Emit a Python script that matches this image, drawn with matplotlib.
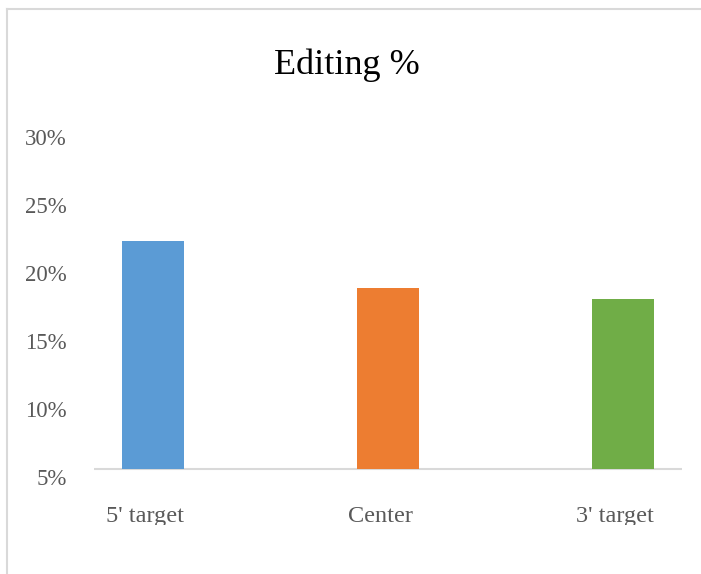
import matplotlib
matplotlib.use("Agg")
import matplotlib.pyplot as plt
from matplotlib.transforms import Bbox, TransformedBbox, ScaledTranslation
from matplotlib.lines import Line2D

# Data
categories = ["5' target", "Center", "3' target"]
editing_pct = [22.3, 18.9, 18.1]
bar_colors = ["#5B9BD5", "#ED7D31", "#70AD47"]
y_ticks = [5, 10, 15, 20, 25, 30]
y_tick_labels = ["5%", "10%", "15%", "20%", "25%", "30%"]
baseline = 5.6

W, H = 701, 574
fig = plt.figure(figsize=(W / 100, H / 100), dpi=100)
plt.rcParams["font.family"] = ["Liberation Serif", "DejaVu Serif"]

# chart-area border (left and top edges visible)
fig.add_artist(Line2D([7 / W, 7 / W], [0, 1 - 9 / H], transform=fig.transFigure,
                      color="#d9d9d9", lw=1.5))
fig.add_artist(Line2D([7 / W, 1], [1 - 9 / H, 1 - 9 / H], transform=fig.transFigure,
                      color="#d9d9d9", lw=1.5))

left, right = 94 / W, 682 / W
bottom, top = (H - 476.7) / H, (H - 136.7) / H
ax = fig.add_axes([left, bottom, right - left, top - bottom])

x = list(range(len(categories)))
heights = [v - baseline for v in editing_pct]
ax.bar(x, heights, bottom=baseline, width=0.265, color=bar_colors, zorder=2)
ax.axhline(baseline, color="#d9d9d9", lw=1.5, zorder=1)

ax.set_xlim(-0.25, 2.25)
ax.set_ylim(5, 30)
ax.set_yticks(y_ticks)
ax.set_yticklabels(y_tick_labels, fontsize=16.5, color="#595959")
ax.set_xticks(x)
ax.set_xticklabels(categories, fontsize=17.5, color="#595959")
ax.tick_params(axis="y", length=0, pad=19.5)
ax.tick_params(axis="x", length=0, pad=21)
for s in ax.spines.values():
    s.set_visible(False)

# category labels sit slightly left of the bars and are cut off at the
# lower edge of the chart area
shift = ScaledTranslation(-8 / 100, 0, fig.dpi_scale_trans)
clip = TransformedBbox(Bbox.from_extents(0, (H - 525) / H, 1, 1), fig.transFigure)
for t in ax.xaxis.get_major_ticks():
    t.label1.set_transform(t.label1.get_transform() + shift)
    t.label1.set_clip_box(clip)
    t.label1.set_clip_on(True)

fig.text(347 / W, (H - 65) / H, "Editing %", fontsize=26, color="black",
         ha="center", va="center")

fig.savefig("out.png", dpi=100)
